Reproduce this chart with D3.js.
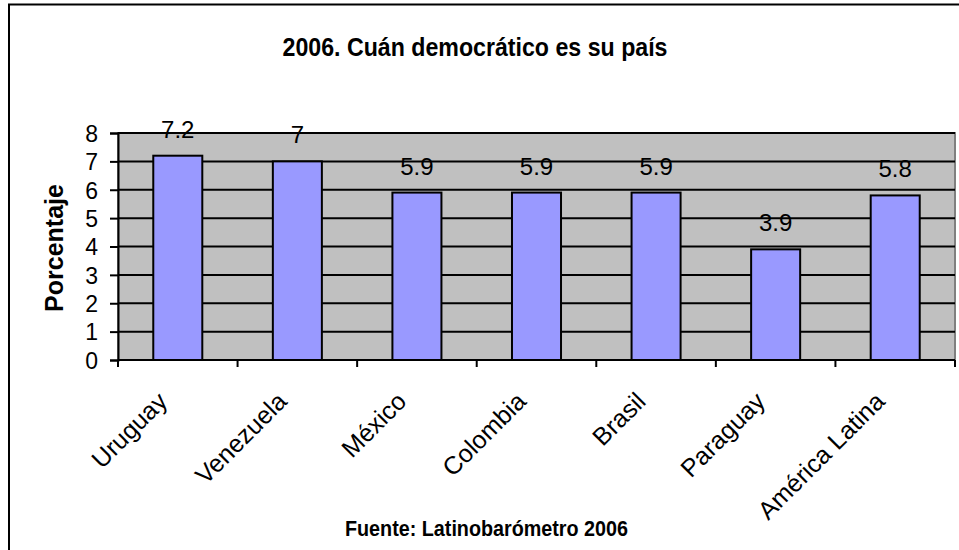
<!DOCTYPE html>
<html>
<head>
<meta charset="utf-8">
<script src="https://cdn.jsdelivr.net/npm/d3@7"></script>
<style>
  body { margin: 0; background: #fff; }
  svg { display: block; }
  text { font-family: Arial, "Liberation Sans", sans-serif; fill: #000; }
</style>
</head>
<body>
<script>
// chart data
var categories = ["Uruguay", "Venezuela", "México", "Colombia", "Brasil", "Paraguay", "América Latina"];
var values = [7.2, 7, 5.9, 5.9, 5.9, 3.9, 5.8];
var yTicks = [0, 1, 2, 3, 4, 5, 6, 7, 8];
var title = "2006. Cuán democrático es su país";
var yTitle = "Porcentaje";
var source = "Fuente: Latinobarómetro 2006";

var width = 959;
var height = 550;
var plotLeft = 118, plotRight = 955, plotTop = 133, plotBottom = 360;

var svg = d3.select("body").append("svg").attr("width", width).attr("height", height);

// chart frame
svg.append("rect").attr("x", 9).attr("y", 4.5).attr("width", 970).attr("height", 570)
    .attr("fill", "#fff").attr("stroke", "#000").attr("stroke-width", 2);

var x = d3.scaleBand().domain(categories).range([plotLeft, plotRight]).paddingInner(0.59).paddingOuter(0.295);
var xb = d3.scaleBand().domain(categories).range([plotLeft, plotRight]);
var y = d3.scaleLinear().domain([0, 8]).range([plotBottom, plotTop]);

// plot area
svg.append("rect").attr("x", plotLeft).attr("y", plotTop).attr("width", plotRight - plotLeft).attr("height", plotBottom - plotTop)
    .attr("fill", "#c0c0c0").attr("stroke", "#808080").attr("stroke-width", 2);

// gridlines
svg.append("g").selectAll("line").data(yTicks.slice(1)).enter().append("line")
    .attr("x1", plotLeft).attr("x2", plotRight)
    .attr("y1", function (d) { return y(d); }).attr("y2", function (d) { return y(d); })
    .attr("stroke", "#000").attr("stroke-width", 2);

// bars
svg.append("g").selectAll("rect").data(values).enter().append("rect")
    .attr("x", function (d, i) { return x(categories[i]); })
    .attr("y", function (d) { return y(d); })
    .attr("width", x.bandwidth())
    .attr("height", function (d) { return y(0) - y(d); })
    .attr("fill", "#9999ff").attr("stroke", "#000").attr("stroke-width", 2);

// value labels
svg.append("g").selectAll("text").data(values).enter().append("text")
    .attr("x", function (d, i) { return x(categories[i]) + x.bandwidth() / 2; })
    .attr("y", function (d) { return y(d) - 18; })
    .attr("text-anchor", "middle").attr("font-size", 24)
    .text(function (d) { return d; });

// y axis
var yAxis = d3.axisLeft(y).tickValues(yTicks).tickSize(8).tickPadding(12).tickFormat(d3.format("d"));
var gy = svg.append("g").attr("transform", "translate(" + plotLeft + ",0)").call(yAxis);
gy.select(".domain").attr("stroke-width", 2);
gy.selectAll(".tick line").attr("stroke-width", 2);
gy.selectAll(".tick text").attr("font-size", 23).attr("font-family", "Arial, 'Liberation Sans', sans-serif")
    .attr("dy", "0.36em");

// x axis: ticks at category boundaries
svg.append("line").attr("x1", plotLeft).attr("x2", plotRight).attr("y1", plotBottom).attr("y2", plotBottom)
    .attr("stroke", "#000").attr("stroke-width", 2);
var bounds = categories.map(function (c) { return xb(c); }).concat([plotRight]);
svg.append("g").selectAll("line").data(bounds).enter().append("line")
    .attr("x1", function (d) { return d; }).attr("x2", function (d) { return d; })
    .attr("y1", plotBottom).attr("y2", plotBottom + 7)
    .attr("stroke", "#000").attr("stroke-width", 2);

svg.append("g").selectAll("text").data(categories).enter().append("text")
    .attr("transform", function (d) {
        return "translate(" + (xb(d) + xb.bandwidth() / 2 - 9) + "," + (plotBottom + 43) + ") rotate(-45)";
    })
    .attr("text-anchor", "end").attr("font-size", 25)
    .text(function (d) { return d; });

// titles
svg.append("text").attr("x", 475).attr("y", 56).attr("text-anchor", "middle")
    .attr("font-family", "'Liberation Sans Narrow', 'Arial Narrow', 'DejaVu Sans Condensed', sans-serif")
    .attr("font-weight", "bold").attr("font-size", 26)
    .attr("textLength", 385).attr("lengthAdjust", "spacingAndGlyphs")
    .text(title);

svg.append("text").attr("transform", "translate(63,248) rotate(-90)").attr("text-anchor", "middle")
    .attr("font-weight", "bold").attr("font-size", 25)
    .text(yTitle);

svg.append("text").attr("x", 486.5).attr("y", 536).attr("text-anchor", "middle")
    .attr("font-weight", "bold").attr("font-size", 22)
    .attr("textLength", 283).attr("lengthAdjust", "spacingAndGlyphs")
    .text(source);
</script>
</body>
</html>
